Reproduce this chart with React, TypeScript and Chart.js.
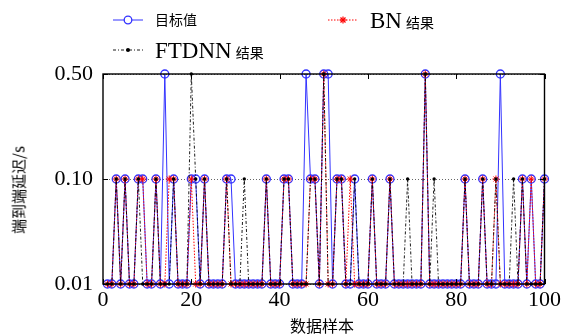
import React, { useEffect, useRef } from "react";
import { Chart, registerables } from "chart.js";
Chart.register(...registerables);

// Delay levels (seconds) and their tick labels, evenly spaced on the y axis
const levelValues = [0.01, 0.1, 0.5];
const levelLabels = ["0.01", "0.10", "0.50"];
const xTickStep = 20;
const xMin = 0;
const xMax = 100;

// sample numbers 1..100
const samples = Array.from({ length: 100 }, (_, i) => i + 1);

// 目标值 (target)
const targetValues = [
  0.01, 0.01, 0.1, 0.01, 0.1, 0.01, 0.01, 0.1, 0.1, 0.01,
  0.01, 0.1, 0.01, 0.5, 0.01, 0.1, 0.01, 0.01, 0.01, 0.1,
  0.1, 0.01, 0.1, 0.01, 0.01, 0.01, 0.01, 0.1, 0.1, 0.01,
  0.01, 0.01, 0.01, 0.01, 0.01, 0.01, 0.1, 0.01, 0.01, 0.01,
  0.1, 0.1, 0.01, 0.01, 0.01, 0.5, 0.1, 0.1, 0.01, 0.5,
  0.5, 0.01, 0.1, 0.1, 0.01, 0.01, 0.1, 0.01, 0.01, 0.01,
  0.1, 0.01, 0.01, 0.01, 0.1, 0.01, 0.01, 0.01, 0.01, 0.01,
  0.01, 0.01, 0.5, 0.01, 0.01, 0.01, 0.01, 0.01, 0.01, 0.01,
  0.01, 0.1, 0.01, 0.01, 0.01, 0.1, 0.01, 0.01, 0.01, 0.5,
  0.01, 0.01, 0.01, 0.01, 0.1, 0.01, 0.1, 0.01, 0.01, 0.1,
];

// BN 结果
const bnValues = [
  0.01, 0.01, 0.1, 0.01, 0.1, 0.01, 0.01, 0.1, 0.1, 0.01,
  0.01, 0.1, 0.01, 0.01, 0.1, 0.1, 0.01, 0.01, 0.01, 0.1,
  0.01, 0.01, 0.1, 0.01, 0.01, 0.01, 0.01, 0.1, 0.01, 0.01,
  0.01, 0.01, 0.01, 0.01, 0.01, 0.01, 0.1, 0.01, 0.01, 0.01,
  0.1, 0.1, 0.01, 0.01, 0.01, 0.01, 0.1, 0.1, 0.01, 0.5,
  0.01, 0.01, 0.1, 0.1, 0.01, 0.1, 0.01, 0.01, 0.01, 0.01,
  0.1, 0.01, 0.01, 0.01, 0.1, 0.01, 0.01, 0.01, 0.01, 0.01,
  0.01, 0.01, 0.5, 0.01, 0.01, 0.01, 0.01, 0.01, 0.01, 0.01,
  0.01, 0.1, 0.01, 0.01, 0.01, 0.1, 0.01, 0.01, 0.1, 0.01,
  0.01, 0.01, 0.01, 0.01, 0.1, 0.01, 0.1, 0.01, 0.01, 0.1,
];

// FTDNN 结果
const ftdnnValues = [
  0.01, 0.01, 0.1, 0.01, 0.1, 0.01, 0.01, 0.1, 0.01, 0.01,
  0.01, 0.1, 0.01, 0.01, 0.01, 0.1, 0.01, 0.01, 0.01, 0.5,
  0.1, 0.01, 0.1, 0.01, 0.01, 0.01, 0.01, 0.1, 0.01, 0.01,
  0.01, 0.1, 0.01, 0.01, 0.01, 0.01, 0.1, 0.01, 0.01, 0.01,
  0.1, 0.1, 0.01, 0.01, 0.01, 0.01, 0.1, 0.1, 0.01, 0.5,
  0.01, 0.01, 0.1, 0.1, 0.01, 0.01, 0.1, 0.01, 0.01, 0.01,
  0.1, 0.01, 0.01, 0.01, 0.1, 0.01, 0.01, 0.01, 0.1, 0.01,
  0.01, 0.01, 0.5, 0.01, 0.1, 0.01, 0.01, 0.01, 0.01, 0.01,
  0.01, 0.1, 0.01, 0.01, 0.01, 0.1, 0.01, 0.01, 0.1, 0.01,
  0.01, 0.01, 0.1, 0.01, 0.1, 0.01, 0.01, 0.01, 0.01, 0.1,
];

const BLUE = "rgb(50,50,255)";
const RED = "rgb(255,0,0)";
const BLACK = "#000";
const SERIF = "'Liberation Serif', 'Times New Roman', serif";
const CJK = "'Noto Sans CJK SC', sans-serif";

const toPoints = (vals: number[]) =>
  vals.map((v, i) => ({ x: samples[i], y: levelValues.indexOf(v) }));

const framePlugin = {
  id: "frame",
  afterDatasetsDraw(chart: any) {
    const { ctx, chartArea: a, scales } = chart;
    ctx.save();
    ctx.strokeStyle = BLACK;
    ctx.lineWidth = 1;
    const tl = 5;
    ctx.beginPath();
    scales.x.ticks.forEach((t: any) => {
      const px = Math.round(scales.x.getPixelForValue(t.value)) + 0.5;
      ctx.moveTo(px, a.bottom);
      ctx.lineTo(px, a.bottom - tl);
      ctx.moveTo(px, a.top);
      ctx.lineTo(px, a.top + tl);
    });
    scales.y.ticks.forEach((t: any) => {
      const py = Math.round(scales.y.getPixelForValue(t.value)) + 0.5;
      ctx.moveTo(a.left, py);
      ctx.lineTo(a.left + tl, py);
      ctx.moveTo(a.right, py);
      ctx.lineTo(a.right - tl, py);
    });
    ctx.stroke();
    ctx.lineWidth = 1.4;
    ctx.strokeRect(a.left, a.top, a.right - a.left, a.bottom - a.top);
    ctx.restore();
  },
};

function LegendSample({ kind }: { kind: "target" | "bn" | "ftdnn" }) {
  return (
    <svg width={32} height={12} style={{ display: "block" }}>
      {kind === "target" && (
        <>
          <line x1={1} y1={6} x2={31} y2={6} stroke={BLUE} strokeWidth={1} />
          <circle cx={16} cy={6} r={3.8} fill="white" stroke={BLUE} strokeWidth={1.3} />
        </>
      )}
      {kind === "bn" && (
        <>
          <line x1={1} y1={6} x2={31} y2={6} stroke={RED} strokeWidth={1} strokeDasharray="1.5,1.5" />
          <g stroke={RED} strokeWidth={1.2}>
            <line x1={12.5} y1={6} x2={19.5} y2={6} />
            <line x1={16} y1={2.5} x2={16} y2={9.5} />
            <line x1={13.5} y1={3.5} x2={18.5} y2={8.5} />
            <line x1={13.5} y1={8.5} x2={18.5} y2={3.5} />
          </g>
        </>
      )}
      {kind === "ftdnn" && (
        <>
          <line x1={1} y1={6} x2={31} y2={6} stroke={BLACK} strokeWidth={0.9} strokeDasharray="3,2,1,2" />
          <circle cx={16} cy={6} r={2} fill={BLACK} />
        </>
      )}
    </svg>
  );
}

export default function App() {
  const canvasRef = useRef<HTMLCanvasElement | null>(null);

  useEffect(() => {
    if (!canvasRef.current) return;
    const chart = new Chart(canvasRef.current, {
      type: "line",
      data: {
        datasets: [
          {
            label: "FTDNN 结果",
            data: toPoints(ftdnnValues),
            borderColor: BLACK,
            borderWidth: 0.9,
            borderDash: [3, 2, 1, 2],
            pointStyle: "circle",
            pointRadius: 1.7,
            pointBackgroundColor: BLACK,
            pointBorderWidth: 0,
            tension: 0,
            clip: false,
            order: 0,
          } as any,
          {
            label: "BN 结果",
            data: toPoints(bnValues),
            borderColor: RED,
            borderWidth: 1,
            borderDash: [1.5, 1.5],
            pointStyle: "star",
            pointRadius: 3.5,
            pointBorderColor: RED,
            pointBackgroundColor: RED,
            pointBorderWidth: 1,
            tension: 0,
            clip: false,
            order: 1,
          } as any,
          {
            label: "目标值",
            data: toPoints(targetValues),
            borderColor: BLUE,
            borderWidth: 1,
            pointStyle: "circle",
            pointRadius: 4,
            pointBorderColor: BLUE,
            pointBackgroundColor: "rgba(0,0,0,0)",
            pointBorderWidth: 1.3,
            tension: 0,
            clip: false,
            order: 2,
          } as any,
        ],
      },
      options: {
        animation: false,
        responsive: false,
        maintainAspectRatio: false,
        events: [],
        layout: { padding: { top: 74, right: 17, left: 0, bottom: 0 } },
        plugins: { legend: { display: false }, tooltip: { enabled: false } },
        scales: {
          x: {
            type: "linear",
            min: xMin,
            max: xMax,
            ticks: {
              stepSize: xTickStep,
              color: BLACK,
              font: { family: SERIF, size: 22 },
              padding: 3,
              maxRotation: 0,
            },
            grid: { display: false, drawTicks: false },
            border: { display: false },
            afterFit: (s: any) => {
              s.height = 51;
            },
          },
          y: {
            type: "linear",
            min: 0,
            max: levelValues.length - 1,
            ticks: {
              stepSize: 1,
              color: BLACK,
              font: { family: SERIF, size: 22 },
              padding: 10,
              callback: (v: any) => levelLabels[v as number] ?? "",
            },
            grid: {
              display: true,
              drawTicks: false,
              color: "rgba(0,0,0,0.75)",
              lineWidth: 0.8,
            },
            border: { display: false, dash: [1, 2] },
            afterFit: (s: any) => {
              s.width = 103;
            },
          },
        },
      } as any,
      plugins: [framePlugin],
    });
    return () => chart.destroy();
  }, []);

  const legendText: React.CSSProperties = {
    position: "absolute",
    whiteSpace: "nowrap",
    color: "#000",
    lineHeight: 1,
    display: "flex",
    alignItems: "baseline",
  };

  return (
    <div style={{ position: "fixed", left: 0, top: 0, width: 564, height: 335, background: "#fff" }}>
      <canvas ref={canvasRef} width={564} height={335} style={{ position: "absolute", left: 0, top: 0 }} />
      {/* legend */}
      <div style={{ position: "absolute", left: 112, top: 14 }}>
        <LegendSample kind="target" />
      </div>
      <div style={{ ...legendText, left: 155, top: 12, fontFamily: CJK, fontSize: 14 }}>目标值</div>
      <div style={{ position: "absolute", left: 327, top: 14 }}>
        <LegendSample kind="bn" />
      </div>
      <div style={{ ...legendText, left: 370, top: 9 }}>
        <span style={{ fontFamily: SERIF, fontSize: 23 }}>BN</span>
        <span style={{ fontFamily: CJK, fontSize: 14, marginLeft: 4 }}>结果</span>
      </div>
      <div style={{ position: "absolute", left: 112, top: 44 }}>
        <LegendSample kind="ftdnn" />
      </div>
      <div style={{ ...legendText, left: 155, top: 39 }}>
        <span style={{ fontFamily: SERIF, fontSize: 23 }}>FTDNN</span>
        <span style={{ fontFamily: CJK, fontSize: 14, marginLeft: 4 }}>结果</span>
      </div>
      {/* axis titles */}
      <div
        style={{
          position: "absolute",
          left: 322,
          top: 325,
          transform: "translate(-50%, -50%)",
          fontFamily: CJK,
          fontSize: 16,
          lineHeight: 1,
          whiteSpace: "nowrap",
          color: "#000",
        }}
      >
        数据样本
      </div>
      <div
        style={{
          position: "absolute",
          left: 18,
          top: 190,
          transform: "translate(-50%, -50%) rotate(-90deg)",
          fontFamily: CJK,
          fontSize: 15,
          lineHeight: 1,
          whiteSpace: "nowrap",
          color: "#000",
        }}
      >
        端到端延迟/s
      </div>
    </div>
  );
}
